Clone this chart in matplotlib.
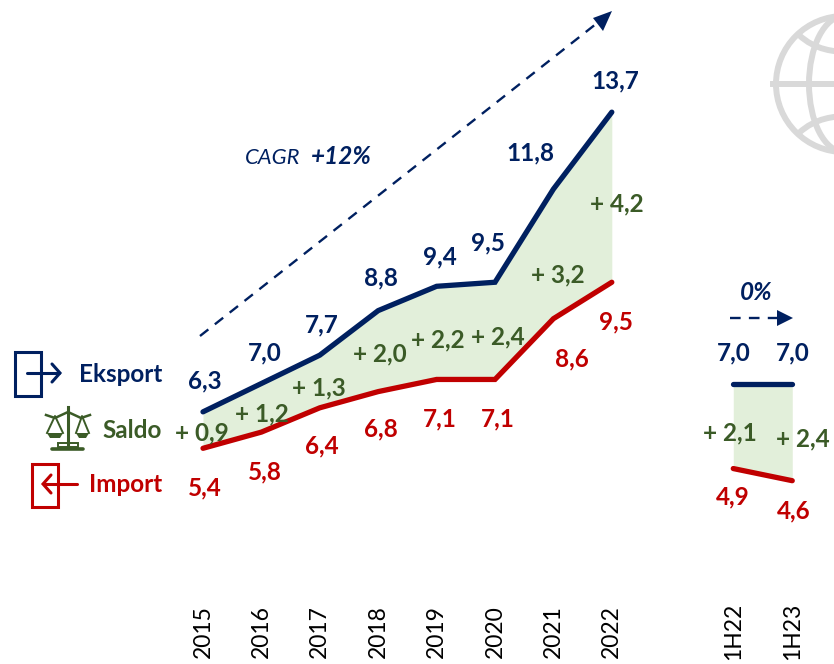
import numpy as np
import matplotlib
matplotlib.use("Agg")
import matplotlib.pyplot as plt
from matplotlib.patches import Circle, Ellipse, Rectangle, Polygon, PathPatch
from matplotlib.path import Path

plt.rcParams['font.family'] = ['Lato', 'DejaVu Sans']

# Dane
years = ["2015", "2016", "2017", "2018", "2019", "2020", "2021", "2022"]
eksport = [6.3, 7.0, 7.7, 8.8, 9.4, 9.5, 11.8, 13.7]
imp = [5.4, 5.8, 6.4, 6.8, 7.1, 7.1, 8.6, 9.5]
saldo = [0.9, 1.2, 1.3, 2.0, 2.2, 2.4, 3.2, 4.2]

half_years = ["1H22", "1H23"]
eksport_h = [7.0, 7.0]
imp_h = [4.9, 4.6]
saldo_h = [2.1, 2.4]

x_years = np.arange(8)
x_half = np.array([9.08, 10.09])

# Przesuniecia etykiet w pikselach
off_eks = [(2, 31), (3, 31), (2, 30), (3, 33), (3, 29), (-7, 39), (-23, 36), (4, 31)]
off_imp = [(2, -40), (3, -40), (2, -38), (3, -37), (3, -39), (3, -39), (18, -40), (4, -40)]
off_sal = [(-1, 15), (0, 18), (-1, 20), (2, 38), (1, 40), (3, 43), (4, 44), (5, 78)]
off_eks_h = [(0, 31), (0, 31)]
off_imp_h = [(0, -28), (1, -30)]
off_sal_h = [(-3, 36), (11, 42)]

BLUE = "#002060"
RED = "#c00000"
GREEN = "#3b5b27"
FILL = "#e2efda"
GREY = "#d9d9d9"
FS = 17.5


def fmt(v):
    return f"{v:.1f}".replace(".", ",")


def labels(xs, ys, vals, offs, color, prefix=""):
    for x, y, v, o in zip(xs, ys, vals, offs):
        ax.annotate(prefix + fmt(v), (x, y), xytext=o, textcoords="offset pixels",
                    ha="center", va="center", color=color, fontsize=FS,
                    fontweight="bold", zorder=5)


fig = plt.figure(figsize=(8.34, 6.64), dpi=100)

# Os danych na calej figurze
ax = fig.add_axes([0, 0, 1, 1])
ax.set_xlim(-203 / 58.4, (834 - 203) / 58.4)
ax.set_ylim((667 - 664) / 40.5, 667 / 40.5)
ax.axis("off")

# Os w pikselach na dekoracje
px = fig.add_axes([0, 0, 1, 1], zorder=3)
px.set_xlim(0, 834)
px.set_ylim(664, 0)
px.axis("off")
px.patch.set_alpha(0)

for xs, e, i in [(x_years, eksport, imp), (x_half, eksport_h, imp_h)]:
    ax.fill_between(xs, i, e, color=FILL, lw=0, zorder=1)
    ax.plot(xs, e, color=BLUE, lw=3.8, solid_capstyle="round", solid_joinstyle="miter", zorder=2)
    ax.plot(xs, i, color=RED, lw=3.8, solid_capstyle="round", solid_joinstyle="miter", zorder=2)

labels(x_years, eksport, eksport, off_eks, BLUE)
labels(x_years, imp, imp, off_imp, RED)
labels(x_years, imp, saldo, off_sal, GREEN, "+ ")
labels(x_half, eksport_h, eksport_h, off_eks_h, BLUE)
labels(x_half, imp_h, imp_h, off_imp_h, RED)
labels(x_half, imp_h, saldo_h, off_sal_h, GREEN, "+ ")

for x, t in zip(list(x_years) + list(x_half), years + half_years):
    ax.text(x, 0.88, t, rotation=90, ha="center", va="center", fontsize=16.5, color="black")

# CAGR
px.plot([200, 601], [336, 20], color=BLUE, lw=1.7, dashes=(4.5, 3.5))
px.add_patch(Polygon([[612, 11], [593, 18], [603, 31]], color=BLUE, lw=0))
px.text(273, 158, "CAGR", style="italic", color=BLUE, fontsize=15.8, ha="center", va="center")
px.text(341, 157, "+12%", style="italic", fontweight="bold", color=BLUE, fontsize=17.5, ha="center", va="center")

# 0%
px.text(756, 292, "0%", style="italic", fontweight="bold", color=BLUE, fontsize=17.5, ha="center", va="center")
px.plot([730, 778], [318, 318], color=BLUE, lw=1.7, dashes=(4.5, 3.5))
px.add_patch(Polygon([[793, 318], [777, 310], [777, 326]], color=BLUE, lw=0))

# Legenda
px.text(162, 375, "Eksport", color=BLUE, fontsize=FS, fontweight="bold", ha="right", va="center")
px.text(162, 430, "Saldo", color=GREEN, fontsize=FS, fontweight="bold", ha="right", va="center")
px.text(162, 484, "Import", color=RED, fontsize=FS, fontweight="bold", ha="right", va="center")

px.add_patch(Rectangle((15.5, 351.5), 26, 44, fill=False, ec=BLUE, lw=2.2))
px.plot([27, 59], [373, 373], color=BLUE, lw=2.2, solid_capstyle="round")
px.plot([52, 60, 52], [364, 373, 382], color=BLUE, lw=2.2, solid_capstyle="round", solid_joinstyle="miter")

px.add_patch(Rectangle((32.5, 463.5), 26, 43, fill=False, ec=RED, lw=2.2))
px.plot([77, 44], [484, 484], color=RED, lw=2.2, solid_capstyle="round")
px.plot([51, 43, 51], [475, 484, 493], color=RED, lw=2.2, solid_capstyle="round", solid_joinstyle="miter")

# Waga
px.plot([68, 68], [407, 445], color=GREEN, lw=2.2)
px.plot([46, 55, 68, 81, 90], [415, 418, 412, 418, 415], color=GREEN, lw=1.8)
px.add_patch(Rectangle((58, 443), 20, 4, fill=False, ec=GREEN, lw=1.4))
px.plot([52, 83], [448.5, 448.5], color=GREEN, lw=2.6, solid_capstyle="round")
for cx, l, r in [(55, 47, 63), (82, 76, 89)]:
    px.plot([l, cx, r], [433, 416, 433], color=GREEN, lw=1.4)
    px.add_patch(Polygon([[l, 433], [r, 433], [r - 3, 438], [l + 3, 438]], color=GREEN, lw=0))

# Globus
cx, cy = 844, 84
px.add_patch(Circle((cx, cy), 68, fill=False, ec=GREY, lw=4.3))
px.add_patch(Ellipse((cx, cy), 70, 136, fill=False, ec=GREY, lw=4.3))
px.plot([773, 834], [cy, cy], color=GREY, lw=4.3)
for pts in ([(799, 35), (815, 50), (834, 52), (850, 52)],
            [(799, 133), (815, 118), (834, 116), (850, 116)]):
    px.add_patch(PathPatch(Path(pts, [Path.MOVETO, Path.CURVE4, Path.CURVE4, Path.CURVE4]),
                           fill=False, ec=GREY, lw=4.3))

fig.savefig("out.png", dpi=100)
